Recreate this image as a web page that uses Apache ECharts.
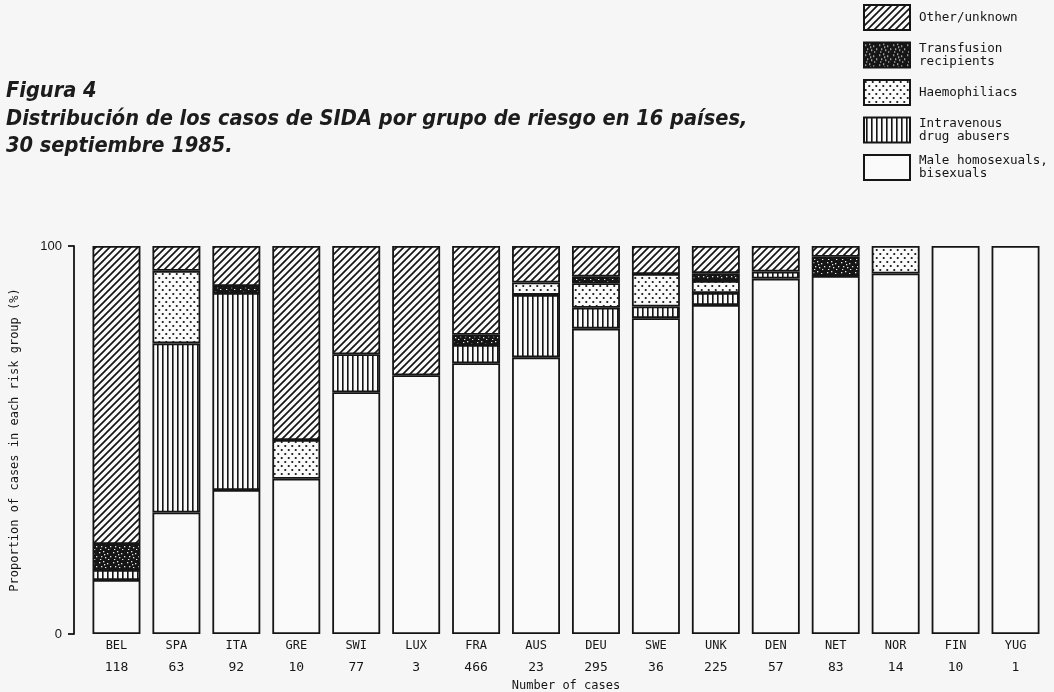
<!DOCTYPE html>
<html>
<head>
<meta charset="utf-8">
<script src="https://cdn.jsdelivr.net/npm/echarts@6/dist/echarts.min.js"></script>
<style>
  html, body { margin: 0; padding: 0; background: #f6f6f6; }
  #chart { width: 1054px; height: 692px; }
</style>
</head>
<body>
<div id="chart"></div>
<script>
// paises y numero de casos
const countries = ['BEL', 'SPA', 'ITA', 'GRE', 'SWI', 'LUX', 'FRA', 'AUS', 'DEU', 'SWE', 'UNK', 'DEN', 'NET', 'NOR', 'FIN', 'YUG']
const caseCounts = [118, 63, 92, 10, 77, 3, 466, 23, 295, 36, 225, 57, 83, 14, 10, 1]

// porcentaje por grupo de riesgo (de abajo hacia arriba)
const maleHomo = [13.9, 31.3, 37.1, 40.0, 62.3, 66.7, 69.8, 71.3, 78.7, 81.4, 84.8, 91.6, 92.3, 92.9, 100, 100]
const drugUsers = [2.6, 43.6, 50.8, 0, 9.8, 0, 4.7, 16.1, 5.4, 3.0, 3.1, 1.8, 0, 0, 0, 0]
const haemophiliacs = [0, 18.7, 0, 10.0, 0, 0, 0, 3.2, 6.3, 8.4, 3.1, 0, 0, 7.1, 0, 0]
const transfusion = [6.7, 0, 1.8, 0, 0, 0, 2.6, 0, 1.7, 0, 2.0, 0, 4.9, 0, 0, 0]
const otherUnknown = [76.8, 6.4, 10.3, 50.0, 27.9, 33.3, 22.9, 9.4, 7.9, 7.2, 7.0, 6.6, 2.8, 0, 0, 0]

const mono = '"DejaVu Sans Mono", "Liberation Mono", monospace'
const ink = '#151515'
const paper = '#fafafa'

// tramas para imitar el grafico impreso
function pattern (w, h, draw) {
  const c = document.createElement('canvas')
  c.width = w
  c.height = h
  const ctx = c.getContext('2d')
  ctx.fillStyle = paper
  ctx.fillRect(0, 0, w, h)
  draw(ctx, w, h)
  return { image: c, repeat: 'repeat' }
}

const hatch = pattern(7, 7, (ctx, w, h) => {
  ctx.strokeStyle = ink
  ctx.lineWidth = 1.7
  ctx.beginPath()
  ctx.moveTo(-1, h + 1); ctx.lineTo(w + 1, -1)
  ctx.moveTo(-1, 1); ctx.lineTo(1, -1)
  ctx.moveTo(w - 1, h + 1); ctx.lineTo(w + 1, h - 1)
  ctx.stroke()
})

const vlines = pattern(5, 4, (ctx, w, h) => {
  ctx.fillStyle = ink
  ctx.fillRect(2, 0, 1.6, h)
})

const dots = pattern(7, 8, (ctx, w, h) => {
  ctx.fillStyle = ink
  ctx.beginPath()
  ctx.arc(1.75, 2, 1.1, 0, Math.PI * 2)
  ctx.arc(5.25, 6, 1.1, 0, Math.PI * 2)
  ctx.fill()
})

const speckle = pattern(14, 10, (ctx, w, h) => {
  ctx.fillStyle = ink
  ctx.fillRect(0, 0, w, h)
  ctx.fillStyle = '#e8e8e8'
  const pts = [[1, 2], [5, 1], [9, 3], [12, 6], [3, 6], [7, 7], [10, 9], [2, 9], [6, 4]]
  pts.forEach(p => ctx.fillRect(p[0], p[1], 1.3, 1.3))
})

const chart = echarts.init(document.getElementById('chart'))

function barSeries (name, data, fill) {
  return {
    name: name,
    type: 'bar',
    stack: 'total',
    barWidth: '80%',
    // los grupos sin casos no se dibujan
    data: data.map(v => (v === 0 ? '-' : v)),
    itemStyle: {
      color: fill,
      borderColor: ink,
      borderWidth: 1.8
    },
    emphasis: { disabled: true }
  }
}

chart.setOption({
  backgroundColor: '#f6f6f6',
  animation: false,
  title: {
    text: 'Figura 4\nDistribución de los casos de SIDA por grupo de riesgo en 16 países,\n30 septiembre 1985.',
    left: 6,
    top: 78,
    padding: 0,
    textStyle: {
      fontFamily: '"Liberation Sans Narrow", "DejaVu Sans Condensed", sans-serif',
      fontStyle: 'italic',
      fontWeight: 'bold',
      fontSize: 21.6,
      lineHeight: 27.5,
      color: '#1c1c1c'
    }
  },
  legend: {
    orient: 'vertical',
    left: 863,
    top: 4,
    padding: 0,
    itemWidth: 46,
    itemHeight: 25,
    itemGap: 10.5,
    icon: 'rect',
    data: ['Other/unknown', 'Transfusion\nrecipients', 'Haemophiliacs', 'Intravenous\ndrug abusers', 'Male homosexuals,\nbisexuals'],
    textStyle: {
      fontFamily: mono,
      fontSize: 12.6,
      lineHeight: 13,
      color: ink,
      padding: [0, 0, 0, 4]
    }
  },
  grid: {
    left: 86.5,
    right: 8.5,
    top: 246,
    bottom: 58,
    outerBoundsMode: 'none'
  },
  xAxis: {
    type: 'category',
    data: countries,
    name: 'Number of cases',
    nameLocation: 'middle',
    nameGap: 44,
    nameTextStyle: { fontFamily: mono, fontSize: 12, color: ink },
    axisLine: { show: false },
    axisTick: { show: false },
    axisLabel: {
      margin: 4,
      interval: 0,
      formatter: (value, i) => '{a|' + value + '}\n{b|' + caseCounts[i] + '}',
      rich: {
        a: { fontFamily: mono, fontSize: 12, lineHeight: 16, color: ink },
        b: { fontFamily: mono, fontSize: 13, lineHeight: 28, color: ink }
      }
    }
  },
  yAxis: {
    type: 'value',
    min: 0,
    max: 100,
    interval: 100,
    offset: 12.5,
    name: 'Proportion of cases in each risk group (%)',
    nameLocation: 'middle',
    nameGap: 53,
    nameRotate: 90,
    nameTextStyle: { fontFamily: mono, fontSize: 12, color: ink },
    splitLine: { show: false },
    axisLine: { show: true, lineStyle: { color: ink, width: 1.8 } },
    axisTick: { show: true, length: 6, lineStyle: { color: ink, width: 1.8 } },
    axisLabel: {
      margin: 12,
      fontFamily: '"Liberation Sans", Arial, sans-serif',
      fontSize: 13,
      color: ink
    }
  },
  series: [
    barSeries('Male homosexuals,\nbisexuals', maleHomo, paper),
    barSeries('Intravenous\ndrug abusers', drugUsers, vlines),
    barSeries('Haemophiliacs', haemophiliacs, dots),
    barSeries('Transfusion\nrecipients', transfusion, speckle),
    barSeries('Other/unknown', otherUnknown, hatch)
  ]
})
</script>
</body>
</html>
